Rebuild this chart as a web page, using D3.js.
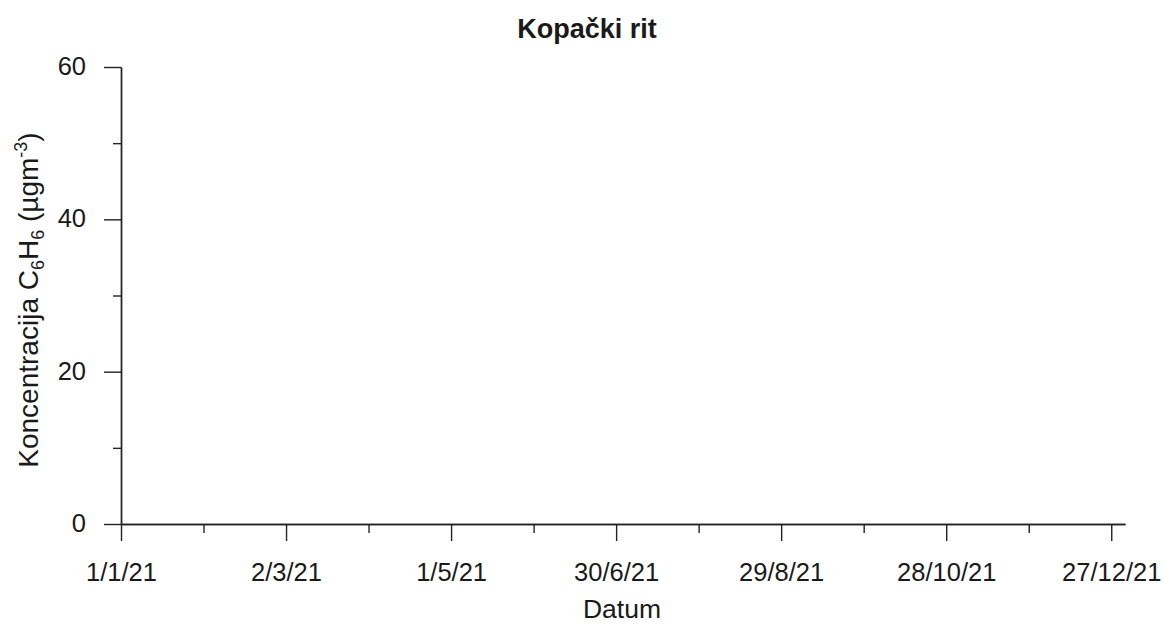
<!DOCTYPE html>
<html>
<head>
<meta charset="utf-8">
<script src="https://cdn.jsdelivr.net/npm/d3@7"></script>
<style>
  html, body { margin: 0; padding: 0; background: #fff; }
  svg { display: block; font-family: "Liberation Sans", Arial, sans-serif; }
</style>
</head>
<body>
<svg id="chart" width="1165" height="626"></svg>
<script>
// ---- data ----
const title = "Kopački rit";
const xDomain = ["2021-01-01", "2022-01-01"];
const xMajorTicks = ["2021-01-01", "2021-03-02", "2021-05-01", "2021-06-30", "2021-08-29", "2021-10-28", "2021-12-27"];
const xMajorLabels = ["1/1/21", "2/3/21", "1/5/21", "30/6/21", "29/8/21", "28/10/21", "27/12/21"];
const xMinorTicks = ["2021-01-31", "2021-04-01", "2021-05-31", "2021-07-30", "2021-09-28", "2021-11-27"];
const yDomain = [0, 60];
const yMajorTicks = [0, 20, 40, 60];
const yMinorTicks = [10, 30, 50];
const seriesDates = [];   // no measurements shown in the reference
const seriesValues = [];

// ---- layout ----
const svg = d3.select("#chart");
const parse = d3.utcParse("%Y-%m-%d");
const x = d3.scaleUtc().domain(xDomain.map(parse)).range([121, 1125]);
const y = d3.scaleLinear().domain(yDomain).range([524, 67]);
const ink = "#1a1a1a";
const axisColor = "#222";

// minor ticks (drawn first)
const xMinor = svg.append("g").attr("transform", "translate(0,524)")
  .call(d3.axisBottom(x).tickValues(xMinorTicks.map(parse)).tickSize(9).tickSizeOuter(0).tickFormat(""));
const yMinor = svg.append("g").attr("transform", "translate(121,0)")
  .call(d3.axisLeft(y).tickValues(yMinorTicks).tickSize(8).tickSizeOuter(0).tickFormat(""));

// major x axis
const xAxis = svg.append("g").attr("transform", "translate(0,524)")
  .call(d3.axisBottom(x).tickValues(xMajorTicks.map(parse)).tickSize(17).tickSizeOuter(0).tickPadding(22)
    .tickFormat((d, i) => xMajorLabels[i]));
// major y axis
const yAxis = svg.append("g").attr("transform", "translate(121,0)")
  .call(d3.axisLeft(y).tickValues(yMajorTicks).tickSize(17).tickSizeOuter(0).tickPadding(18)
    .tickFormat(d3.format("d")));

[xMinor, yMinor, xAxis, yAxis].forEach(g => {
  g.selectAll("path.domain").attr("stroke", axisColor).attr("stroke-width", 1.4);
  g.selectAll(".tick line").attr("stroke", axisColor).attr("stroke-width", 1.4);
  g.selectAll(".tick text").attr("fill", ink).style("font-size", "25.5px")
    .style("font-family", "'Liberation Sans', Arial, sans-serif");
});
xAxis.selectAll(".tick text").attr("dy", "0.71em");
yAxis.selectAll(".tick text").attr("dy", "0.3em");

// data layer (empty in the reference)
svg.append("g").selectAll("circle")
  .data(seriesDates.map((d, i) => ({ d: parse(d), v: seriesValues[i] })))
  .join("circle")
  .attr("cx", p => x(p.d)).attr("cy", p => y(p.v)).attr("r", 3).attr("fill", ink);

// title
svg.append("text").attr("x", 587).attr("y", 38).attr("text-anchor", "middle")
  .attr("fill", ink).style("font-size", "27px").style("font-weight", "bold").text(title);

// x axis title
svg.append("text").attr("x", 622).attr("y", 618).attr("text-anchor", "middle")
  .attr("fill", ink).style("font-size", "26.5px").text("Datum");

// y axis title with sub/superscripts
const yt = svg.append("text").attr("transform", "translate(38,300) rotate(-90)")
  .attr("text-anchor", "middle").attr("fill", ink).style("font-size", "28px");
yt.append("tspan").text("Koncentracija C");
yt.append("tspan").attr("dy", 6).style("font-size", "18px").text("6");
yt.append("tspan").attr("dy", -6).text("H");
yt.append("tspan").attr("dy", 6).style("font-size", "18px").text("6");
yt.append("tspan").attr("dy", -6).text(" (µgm");
yt.append("tspan").attr("dy", -11).style("font-size", "18px").text("-3");
yt.append("tspan").attr("dy", 11).text(")");
</script>
</body>
</html>
